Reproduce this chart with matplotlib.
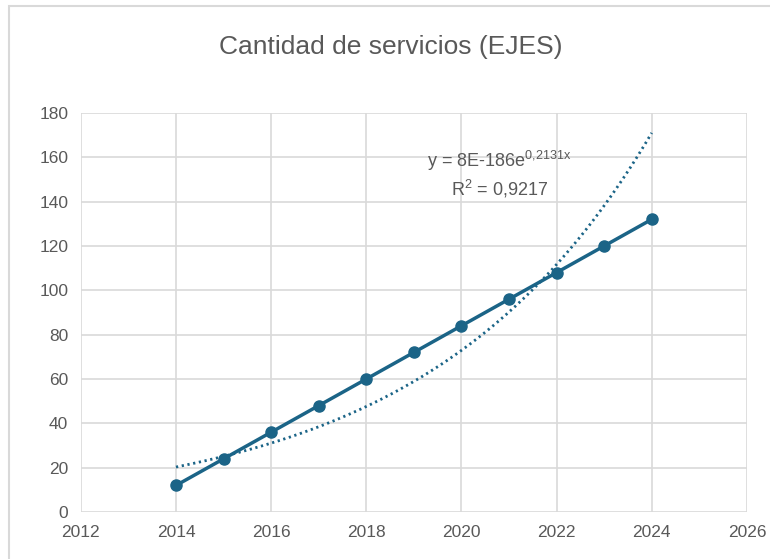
import matplotlib
matplotlib.use("Agg")
import matplotlib.pyplot as plt
from matplotlib.patches import Rectangle
import numpy as np

plt.rcParams["font.family"] = ["Liberation Sans", "DejaVu Sans"]

years = np.array([2014, 2015, 2016, 2017, 2018, 2019, 2020, 2021, 2022, 2023, 2024])
services = np.array([12, 24, 36, 48, 60, 72, 84, 96, 108, 120, 132])
x_ticks = [2012, 2014, 2016, 2018, 2020, 2022, 2024, 2026]
y_ticks = [0, 20, 40, 60, 80, 100, 120, 140, 160, 180]
trend_label = "y = 8E-186e$^{\\mathregular{0{,}2131x}}$"
r2_label = "R$^{\\mathregular{2}}$ = 0,9217"

LINE = "#1b6487"
GREY = "#595959"

# exponential trend fitted on the data (as in the Excel trendline)
b, ln_a = np.polyfit(years, np.log(services), 1)
xs = np.linspace(years[0], years[-1], 200)
trend = np.exp(ln_a + b * xs)

fig = plt.figure(figsize=(7.7, 5.59), dpi=100)
ax = fig.add_axes([0.105, 0.084, 0.865, 0.714])

ax.plot(xs, trend, color=LINE, lw=2.0, ls=(0, (0.8, 1.3)), zorder=3)
ax.plot(years, services, color=LINE, lw=2.5, marker="o", ms=8, zorder=4)

ax.set_xlim(2012, 2026)
ax.set_ylim(0, 180)
ax.set_xticks(x_ticks)
ax.set_yticks(y_ticks)
ax.grid(True, color="#d9d9d9", lw=1.2)
ax.set_axisbelow(True)
for s in ax.spines.values():
    s.set_visible(False)
ax.tick_params(length=0, labelsize=12.5, colors=GREY, pad=9)

ax.text(2020.8, 158.5, trend_label, fontsize=13, color=GREY,
        ha="center", va="center")
ax.text(2020.8, 145.5, r2_label, fontsize=13,
        color=GREY, ha="center", va="center")

fig.text(0.508, 0.916, "Cantidad de servicios (EJES)", fontsize=19,
         color=GREY, ha="center", va="center")

fig.patches.append(Rectangle((0.012, -0.1), 1.2, 1.09, transform=fig.transFigure,
                             fill=False, ec="#d9d9d9", lw=1.5))

fig.savefig("out.png", dpi=100)
